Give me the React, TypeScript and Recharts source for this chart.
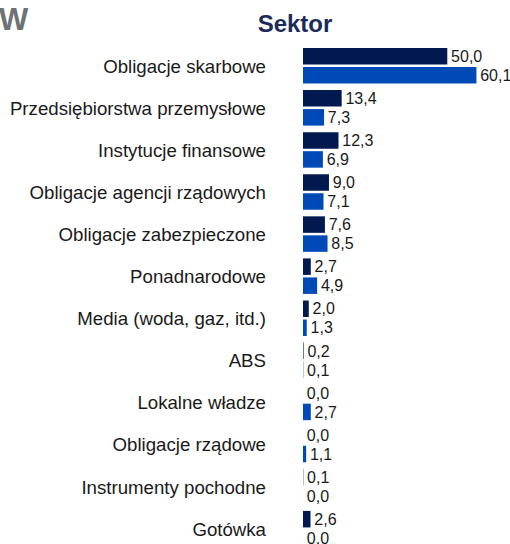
import React from 'react';
import { BarChart, Bar, XAxis, YAxis, LabelList } from 'recharts';

// Sector breakdown, two series per category
const SECTORS = [
  'Obligacje skarbowe',
  'Przedsiębiorstwa przemysłowe',
  'Instytucje finansowe',
  'Obligacje agencji rządowych',
  'Obligacje zabezpieczone',
  'Ponadnarodowe',
  'Media (woda, gaz, itd.)',
  'ABS',
  'Lokalne władze',
  'Obligacje rządowe',
  'Instrumenty pochodne',
  'Gotówka',
];
const FUND = [50.0, 13.4, 12.3, 9.0, 7.6, 2.7, 2.0, 0.2, 0.0, 0.0, 0.1, 2.6];
const BENCHMARK = [60.1, 7.3, 6.9, 7.1, 8.5, 4.9, 1.3, 0.1, 2.7, 1.1, 0.0, 0.0];

const TITLE = 'Sektor';
const FONT = '"Liberation Sans", Arial, sans-serif';

const data = SECTORS.map((name, i) => ({ name, fund: FUND[i], benchmark: BENCHMARK[i] }));

const fmt = (v: any) => Number(v).toFixed(1).replace('.', ',');

// value label drawn right of the bar end, also for zero-length bars
const ValueLabel = (props: any) => {
  const { x, y, width, height, value } = props;
  if (value === undefined || value === null) return null;
  return (
    <text
      x={Number(x) + Math.max(Number(width) || 0, 0) + 3.8}
      y={Number(y) + Number(height) / 2}
      dy="0.355em"
      fontSize={16}
      fill="#1a1a1a"
      fontFamily={FONT}
    >
      {fmt(value)}
    </text>
  );
};

const App: React.FC = () => {
  return (
    <div style={{ position: 'absolute', left: 0, top: 0, width: 510, height: 544, overflow: 'hidden', background: '#fff', fontFamily: FONT }}>
      <svg width={510} height={44} style={{ position: 'absolute', left: 0, top: 0 }}>
        <text x={-1} y={30} fontSize={31} fontWeight="bold" fill="#6d7276" fontFamily={FONT}>W</text>
        <text x={295} y={32} fontSize={24} fontWeight="bold" fill="#1c2b5a" textAnchor="middle" fontFamily={FONT}>
          {TITLE}
        </text>
      </svg>
      <div style={{ position: 'absolute', left: 0, top: 0 }}>
        <BarChart
          width={510}
          height={560}
          data={data}
          layout="vertical"
          margin={{ top: 45, right: 5, bottom: 10, left: 0 }}
          barSize={16.5}
          barGap={2.5}
        >
          <XAxis type="number" domain={[0, 70]} hide />
          <YAxis
            type="category"
            dataKey="name"
            width={303}
            axisLine={false}
            tickLine={false}
            tickSize={0}
            tickMargin={37}
            interval={0}
            tick={{ fontSize: 18.67, fill: '#1a1a1a', fontFamily: FONT }}
          />
          <Bar dataKey="fund" fill="#001a50" minPointSize={0.01} isAnimationActive={false}>
            <LabelList dataKey="fund" content={ValueLabel} />
          </Bar>
          <Bar dataKey="benchmark" fill="#004ab8" minPointSize={0.01} isAnimationActive={false}>
            <LabelList dataKey="benchmark" content={ValueLabel} />
          </Bar>
        </BarChart>
      </div>
    </div>
  );
};

export default App;
